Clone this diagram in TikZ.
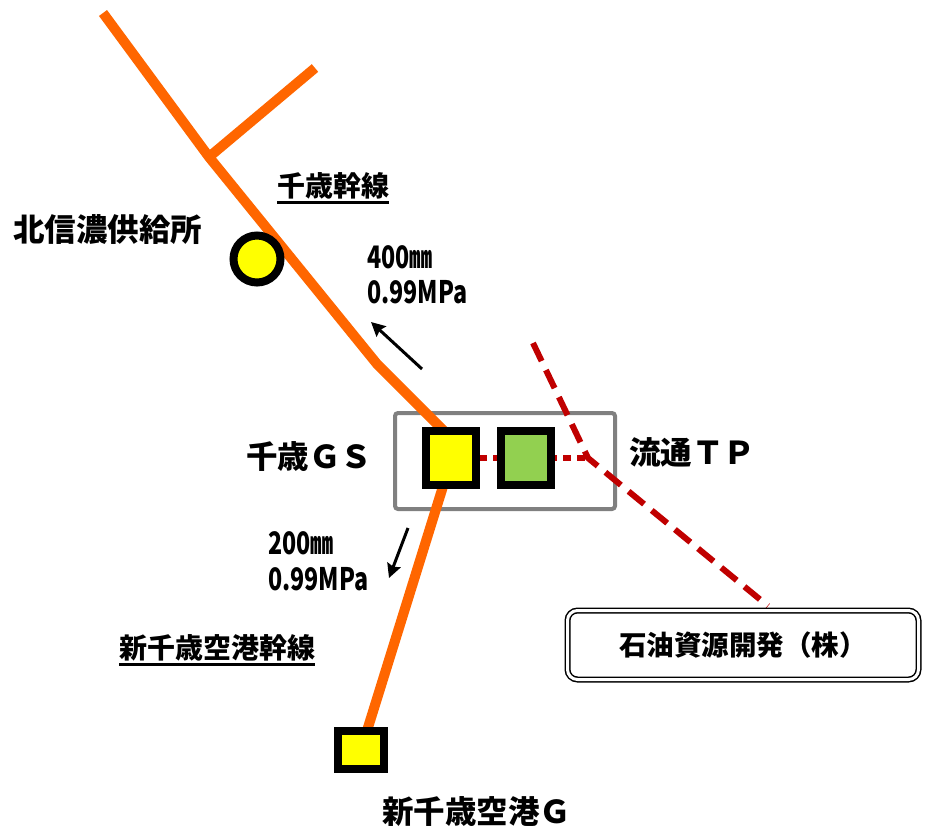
\documentclass[tikz,border=0pt]{standalone}
\usepackage{fontspec}
\newfontfamily\jp{Noto Sans CJK JP}
\newfontfamily\cifre{Noto Sans CJK JP}[FakeStretch=0.75]
\usetikzlibrary{arrows.meta}
\definecolor{arancio}{HTML}{FF6600}
\definecolor{giallo}{HTML}{FFFF00}
\definecolor{verde}{HTML}{92D050}
\definecolor{rosso}{HTML}{C00000}
\definecolor{grigio}{HTML}{808080}

\begin{document}
\begin{tikzpicture}[x = 1pt, y = -1pt,
    gasdotto/.style = {draw = arancio, line width = 10pt},
    stazione/.style = {draw = black, line width = 8pt, fill = giallo, inner sep = 0pt},
    privato/.style = {draw = rosso, line width = 6pt, dash pattern = on 20pt off 10pt},
    collegamento/.style = {draw = rosso, line width = 6pt, dash pattern = on 8pt off 6pt},
    freccia/.style = {line width = 3pt, -{Stealth[length = 14pt, width = 14pt, inset = 2pt]}},
    grande/.style = {font = \jp\bfseries\fontsize{31.5}{36}\selectfont, inner sep = 0pt, anchor = west},
    medio/.style = {font = \jp\bfseries\fontsize{28}{32}\selectfont, inner sep = 0pt, anchor = west},
    dato/.style = {font = \cifre\bfseries\fontsize{31}{36}\selectfont, inner sep = 0pt, anchor = west}]
    \useasboundingbox (0,0) rectangle (942,833);
    % Punti del tracciato
    \coordinate (p1) at (103,13);
    \coordinate (p2) at (209,157);
    \coordinate (ramo) at (315,68);
    \coordinate (p3) at (377,364);
    \coordinate (p4) at (445,432);
    \coordinate (p5) at (445,480);
    \coordinate (r1) at (533,343);
    \coordinate (r2) at (588,458);
    \coordinate (r3) at (768,606);
    % Riquadro GS
    \node[draw = grigio, line width = 4pt, rounded corners = 3pt,
        minimum width = 220pt, minimum height = 96pt] (gsbox) at (505,461) {};
    % Gasdotti
    \draw[gasdotto] (p1) -- (p2) -- (p3) -- (p4);
    \draw[gasdotto] (p2) -- (ramo);
    \coordinate (ncgc) at (361,750);
    \draw[gasdotto] (p5) -- (ncgc);
    % Linea rossa
    \draw[privato] (r1) -- (r2) -- (r3);
    \coordinate (gsc) at (451,458);
    \draw[collegamento] (gsc) -- (r2);
    % Stazioni
    \node[stazione, circle, minimum size = 47pt] (nord) at (257,259) {};
    \node[stazione, minimum width = 50pt, minimum height = 54pt] (gs) at (gsc) {};
    \node[stazione, fill = verde, minimum width = 50pt, minimum height = 54pt] (tp) at (526,458) {};
    \node[stazione, minimum width = 46pt, minimum height = 38pt] (ncg) at (ncgc) {};
    \node[draw, line width = 1.5pt, double = white, double distance = 3pt, rounded corners = 10pt,
        minimum width = 351pt, minimum height = 69pt,
        font = \jp\bfseries\fontsize{27.5}{30}\selectfont] (japex) at (743,645) {石油資源開発（株）};
    % Frecce
    \coordinate (f1) at (422,369);
    \coordinate (f2) at (371,322);
    \draw[freccia] (f1) -- (f2);
    \coordinate (f3) at (408,528);
    \coordinate (f4) at (389,578);
    \draw[freccia] (f3) -- (f4);
    % Scritte
    \node[grande] (nordlab) at (13,230) {北信濃供給所};
    \node[medio] (linea1) at (277,186) {千歳幹線};
    \draw[line width = 2.5pt] ([yshift = -3pt]linea1.south west) -- ([yshift = -3pt]linea1.south east);
    \node[dato] (dn1) at (367,257) {400㎜};
    \node[dato] (pn1) at (367,292) {0.99MPa};
    \node[grande] (gslab) at (246,457) {千歳ＧＳ};
    \node[grande] (tplab) at (629,452) {流通ＴＰ};
    \node[dato] (dn2) at (268,543) {200㎜};
    \node[dato] (pn2) at (268,579) {0.99MPa};
    \node[medio] (linea2) at (119,648) {新千歳空港幹線};
    \draw[line width = 2.5pt] ([yshift = -3pt]linea2.south west) -- ([yshift = -3pt]linea2.south east);
    \node[grande] (ncglab) at (382,812) {新千歳空港Ｇ};
\end{tikzpicture}
\end{document}
